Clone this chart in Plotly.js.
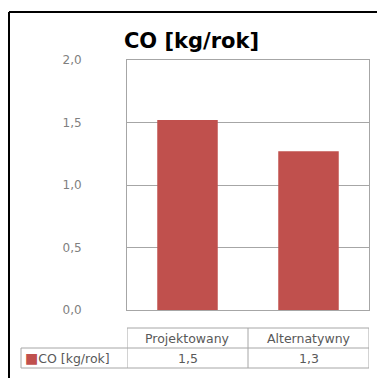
<!DOCTYPE html>
<html>
<head>
<meta charset="utf-8">
<script src="https://cdn.plot.ly/plotly-3.0.1.min.js"></script>
<style>html,body{margin:0;padding:0;background:#fff;}</style>
</head>
<body>
<div id="chart" style="width:377px;height:378px;"></div>
<script>
const categories = ['Projektowany', 'Alternatywny'];
const values = [1.52, 1.27];
const seriesName = 'CO [kg/rok]';
const tickVals = [0, 0.5, 1.0, 1.5, 2.0];

const fmt = v => v.toFixed(1).replace('.', ',');
const gray = '#a6a6a6';
const txt = '#595959';
const font = 'DejaVu Sans, sans-serif';

const shapes = [];
const annotations = [];
// table geometry (paper y)
const yTop = -0.072, yMid = -0.152, yBot = -0.232;
const legLeft = -0.438;
// horizontal lines of the table
shapes.push({type:'line', xref:'paper', yref:'paper', x0:0, x1:1, y0:yTop, y1:yTop, line:{color:gray,width:1}});
shapes.push({type:'line', xref:'paper', yref:'paper', x0:legLeft, x1:1, y0:yMid, y1:yMid, line:{color:gray,width:1}});
shapes.push({type:'line', xref:'paper', yref:'paper', x0:legLeft, x1:1, y0:yBot, y1:yBot, line:{color:gray,width:1}});
// vertical lines
shapes.push({type:'line', xref:'paper', yref:'paper', x0:legLeft, x1:legLeft, y0:yMid, y1:yBot, line:{color:gray,width:1}});
for (let i = 0; i <= categories.length; i++) {
  const xv = i - 0.5;
  shapes.push({type:'line', xref:'x', yref:'paper', x0:xv, x1:xv, y0:yTop, y1:yBot, line:{color:gray,width:1}});
}
// outer black border (left + top)
shapes.push({type:'line', xref:'paper', yref:'paper', x0:-0.4876, x1:-0.4876, y0:-0.4, y1:1.192, line:{color:'#000',width:2}});
shapes.push({type:'line', xref:'paper', yref:'paper', x0:-0.4876, x1:1.2, y0:1.192, y1:1.192, line:{color:'#000',width:2}});

categories.forEach((c, i) => {
  annotations.push({xref:'x', yref:'paper', x:i, y:(yTop+yMid)/2, text:c, showarrow:false,
    font:{family:font, size:12.5, color:txt}, xanchor:'center', yanchor:'middle'});
  annotations.push({xref:'x', yref:'paper', x:i, y:(yMid+yBot)/2, text:fmt(values[i]), showarrow:false,
    font:{family:font, size:12.5, color:txt}, xanchor:'center', yanchor:'middle'});
});
// legend key
annotations.push({xref:'paper', yref:'paper', x:legLeft+0.01, y:(yMid+yBot)/2,
  text:'<span style="color:#C0504D;font-size:14px">■</span>' + seriesName, showarrow:false,
  font:{family:font, size:12.5, color:txt}, xanchor:'left', yanchor:'middle'});

const data = [{
  type:'bar', x:categories, y:values, name:seriesName,
  marker:{color:'#C0504D'}, hoverinfo:'none'
}];

const layout = {
  width:377, height:378,
  margin:{l:127, r:8, t:60, b:68},
  paper_bgcolor:'#fff', plot_bgcolor:'#fff',
  separators:',.',
  showlegend:false,
  bargap:0.5,
  title:{text:'<b>CO [kg/rok]</b>', font:{family:font, size:21, color:'#000'},
    x:0.508, xref:'container', xanchor:'center', y:0.893, yref:'container', yanchor:'middle'},
  xaxis:{range:[-0.5,1.5], showticklabels:false, showline:true, mirror:true, linecolor:gray, linewidth:1,
    showgrid:false, zeroline:false, fixedrange:true},
  yaxis:{range:[0,2.0], tickvals:tickVals, tickformat:'.1f', showline:true, mirror:true, linecolor:gray, linewidth:1,
    gridcolor:gray, gridwidth:1, zeroline:false, ticks:'', ticklabelstandoff:42,
    tickfont:{family:font, size:12, color:'#7f7f7f'}, fixedrange:true},
  shapes:shapes, annotations:annotations
};

Plotly.newPlot('chart', data, layout, {staticPlot:true, displayModeBar:false});
</script>
</body>
</html>
